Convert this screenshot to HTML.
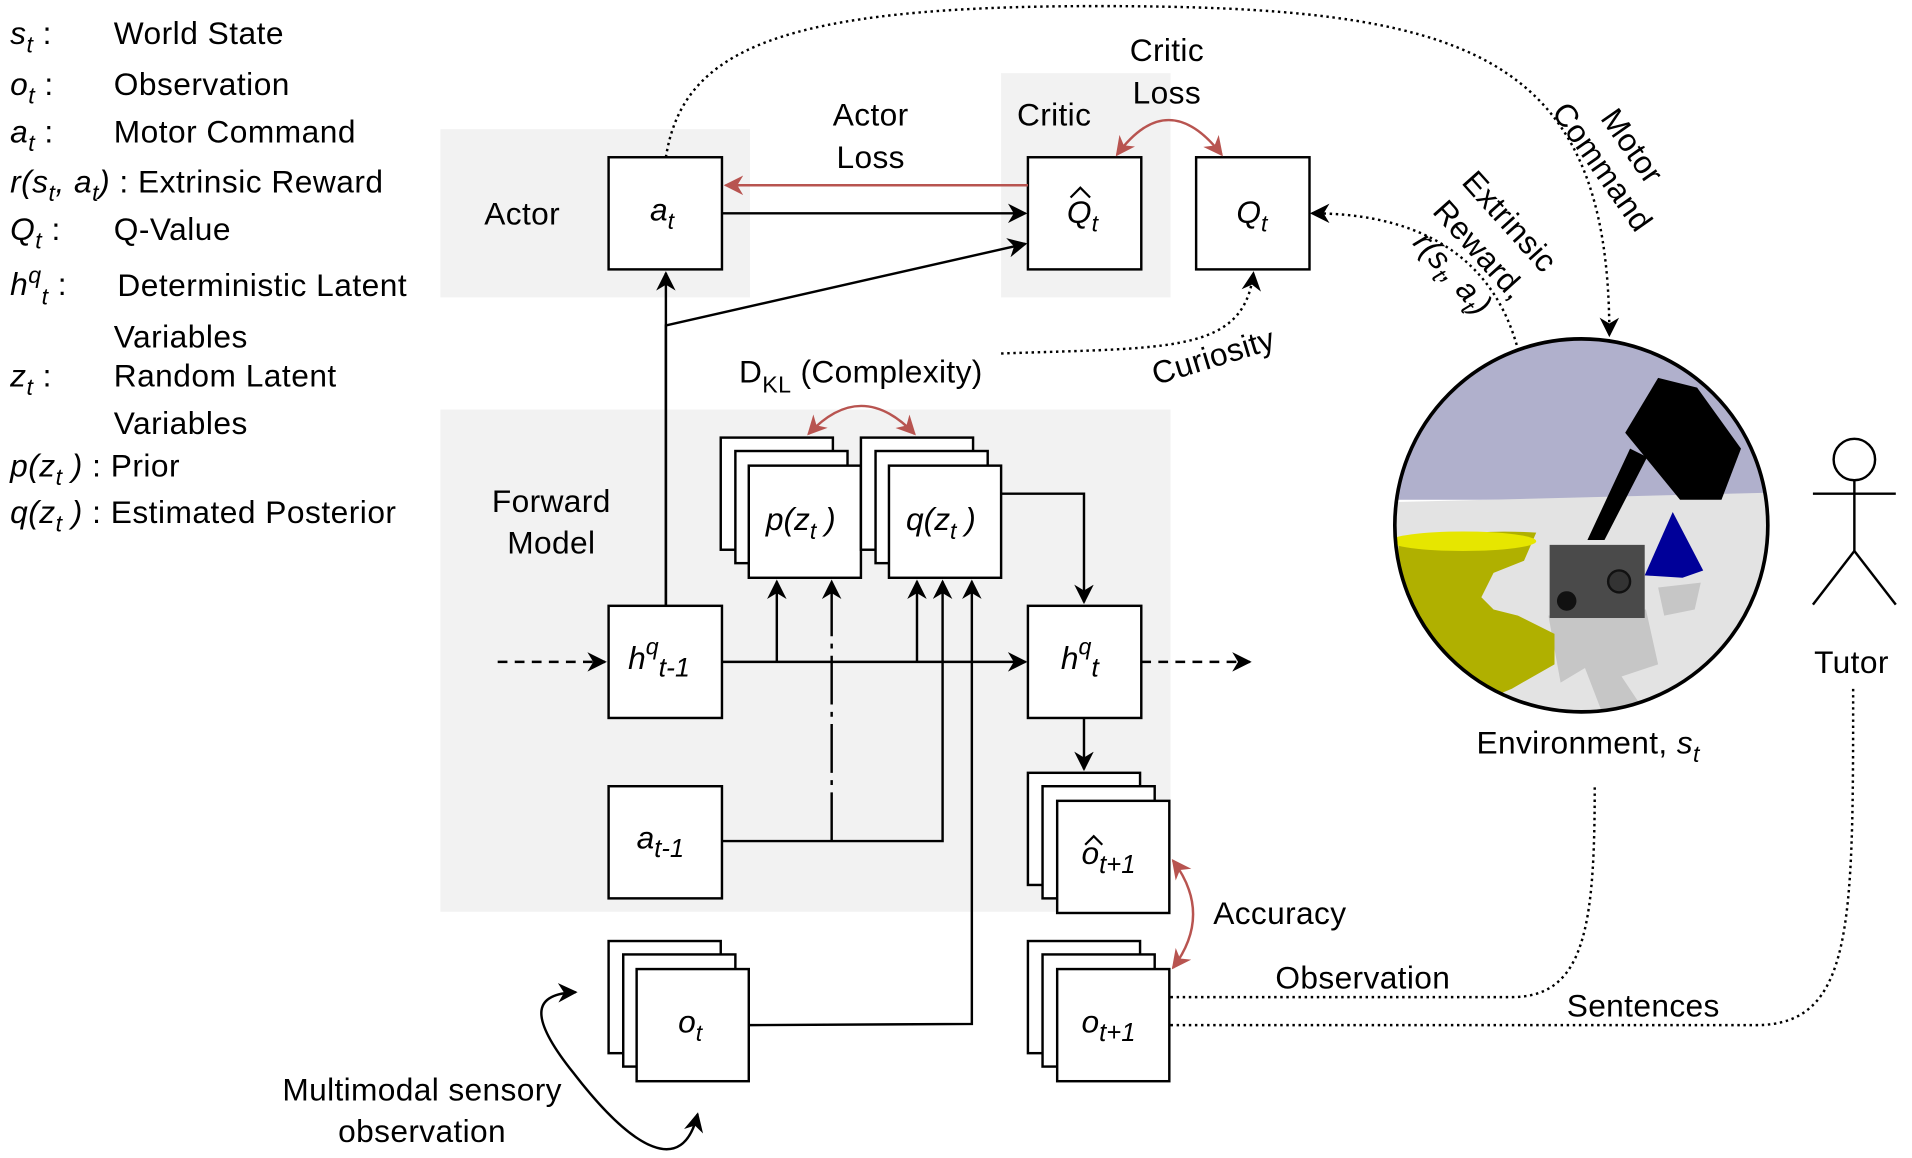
<!DOCTYPE html>
<html><head><meta charset="utf-8"><style>
html,body{margin:0;padding:0;background:#fff;}
svg{display:block;}
text{font-family:"Liberation Sans","DejaVu Sans",sans-serif;fill:#000;}
.it{font-style:italic;}
</style></head><body>
<svg width="1912" height="1158" viewBox="0 0 1568 950" xmlns="http://www.w3.org/2000/svg">
<defs>
<marker id="ab" viewBox="0 0 10 10" refX="9" refY="5" markerWidth="8" markerHeight="8" orient="auto-start-reverse"><path d="M0,0 L10,5 L0,10 L3,5 z" fill="#000"/></marker>
<marker id="ar" viewBox="0 0 10 10" refX="9" refY="5" markerWidth="8" markerHeight="8" orient="auto-start-reverse"><path d="M0,0 L10,5 L0,10 L3,5 z" fill="#b85450"/></marker>
<clipPath id="cc"><circle cx="1297" cy="431" r="153"/></clipPath>
</defs>
<rect x="361" y="106" width="254" height="138" fill="#f2f2f2"/>
<rect x="821" y="60" width="139" height="184" fill="#f2f2f2"/>
<rect x="361" y="336" width="599" height="412" fill="#f2f2f2"/>

<g font-size="26" letter-spacing="0.4">
<text x="8" y="36" class="it">s<tspan font-size="19" dy="7">t</tspan><tspan dy="-7" font-style="normal"> :</tspan></text><text x="93" y="36">World State</text>
<text x="8" y="78" class="it">o<tspan font-size="19" dy="7">t</tspan><tspan dy="-7" font-style="normal"> :</tspan></text><text x="93" y="78">Observation</text>
<text x="8" y="117" class="it">a<tspan font-size="19" dy="7">t</tspan><tspan dy="-7" font-style="normal"> :</tspan></text><text x="93" y="117">Motor Command</text>
<text x="8" y="158"><tspan class="it">r(s<tspan font-size="19" dy="7">t</tspan><tspan dy="-7">, a</tspan><tspan font-size="19" dy="7">t</tspan><tspan dy="-7">)</tspan></tspan> : Extrinsic Reward</text>
<text x="8" y="197" class="it">Q<tspan font-size="19" dy="7">t</tspan><tspan dy="-7" font-style="normal"> :</tspan></text><text x="93" y="197">Q-Value</text>
<text x="8" y="242" class="it">h<tspan font-size="19" dy="-10">q</tspan><tspan font-size="19" dy="18">t</tspan><tspan dy="-8" font-style="normal"> :</tspan></text><text x="96" y="243">Deterministic Latent</text>
<text x="93" y="285">Variables</text>
<text x="8" y="317" class="it">z<tspan font-size="19" dy="7">t</tspan><tspan dy="-7" font-style="normal"> :</tspan></text><text x="93" y="317">Random Latent</text>
<text x="93" y="356">Variables</text>
<text x="8" y="391"><tspan class="it">p(z<tspan font-size="19" dy="7">t</tspan><tspan dy="-7"> )</tspan></tspan> : Prior</text>
<text x="8" y="429"><tspan class="it">q(z<tspan font-size="19" dy="7">t</tspan><tspan dy="-7"> )</tspan></tspan> : Estimated Posterior</text>
</g>

<g font-size="26" letter-spacing="0.3">
<text x="397" y="184">Actor</text>
<text x="834" y="103">Critic</text>
<text x="714" y="103" text-anchor="middle">Actor</text>
<text x="714" y="138" text-anchor="middle">Loss</text>
<text x="957" y="50" text-anchor="middle">Critic</text>
<text x="957" y="85" text-anchor="middle">Loss</text>
<text x="452" y="420" text-anchor="middle">Forward</text>
<text x="452" y="454" text-anchor="middle">Model</text>
<text x="606" y="314">D<tspan font-size="19" dy="8">KL</tspan><tspan dy="-8"> (Complexity)</tspan></text>
<text x="995" y="758">Accuracy</text>
<text x="1046" y="811">Observation</text>
<text x="1285" y="834">Sentences</text>
<text x="1211" y="618">Environment, <tspan class="it">s<tspan font-size="19" dy="7">t</tspan></tspan></text>
<text x="1488" y="552">Tutor</text>
<text x="346" y="903" text-anchor="middle">Multimodal sensory</text>
<text x="346" y="937" text-anchor="middle">observation</text>
<text x="0" y="0" transform="translate(948,316) rotate(-17)">Curiosity</text>
<text x="0" y="0" transform="translate(1312,97) rotate(55)">Motor</text>
<text x="0" y="0" transform="translate(1272,92) rotate(55)">Command</text>
<text x="0" y="0" transform="translate(1198,150) rotate(48)">Extrinsic</text>
<text x="0" y="0" transform="translate(1174,174) rotate(48)">Reward,</text>
<text x="0" y="0" transform="translate(1158,200) rotate(48)" class="it">r(s<tspan font-size="19" dy="7">t</tspan><tspan dy="-7">, a</tspan><tspan font-size="19" dy="7">t</tspan><tspan dy="-7">)</tspan></text>
</g>

<g fill="#fff" stroke="#000" stroke-width="2">
<rect x="499" y="129" width="93" height="92"/>
<rect x="843" y="129" width="93" height="92"/>
<rect x="981" y="129" width="93" height="92"/>
<rect x="499" y="497" width="93" height="92"/>
<rect x="843" y="497" width="93" height="92"/>
<rect x="499" y="645" width="93" height="92"/>
<rect x="591" y="359" width="92" height="92"/><rect x="603" y="370" width="92" height="92"/><rect x="614" y="382" width="92" height="92"/>
<rect x="706" y="359" width="92" height="92"/><rect x="718" y="370" width="92" height="92"/><rect x="729" y="382" width="92" height="92"/>
<rect x="843" y="634" width="92" height="92"/><rect x="855" y="645" width="92" height="92"/><rect x="867" y="657" width="92" height="92"/>
<rect x="843" y="772" width="92" height="92"/><rect x="855" y="783" width="92" height="92"/><rect x="867" y="795" width="92" height="92"/>
<rect x="499" y="772" width="92" height="92"/><rect x="511" y="783" width="92" height="92"/><rect x="522" y="795" width="92" height="92"/>
</g>
<g font-size="26">
<text x="533" y="181" class="it">a<tspan font-size="19" dy="7">t</tspan></text>
<text x="875" y="183" class="it">Q<tspan font-size="19" dy="7">t</tspan></text>
<path d="M878,162 L886,154 L894,162" fill="none" stroke="#000" stroke-width="1.8"/>
<text x="1014" y="183" class="it">Q<tspan font-size="19" dy="7">t</tspan></text>
<text x="515" y="549" class="it">h<tspan font-size="19" dy="-12">q</tspan><tspan font-size="22" dy="18">t-1</tspan></text>
<text x="870" y="549" class="it">h<tspan font-size="19" dy="-12">q</tspan><tspan font-size="22" dy="18">t</tspan></text>
<text x="522" y="696" class="it">a<tspan font-size="21" dy="7">t-1</tspan></text>
<text x="628" y="435" class="it">p(z<tspan font-size="19" dy="7">t</tspan><tspan dy="-7"> )</tspan></text>
<text x="743" y="435" class="it">q(z<tspan font-size="19" dy="7">t</tspan><tspan dy="-7"> )</tspan></text>
<text x="887" y="709" class="it">o<tspan font-size="21" dy="7">t+1</tspan></text>
<path d="M890,693 L897,686 L904,693" fill="none" stroke="#000" stroke-width="1.8"/>
<text x="887" y="847" class="it">o<tspan font-size="21" dy="7">t+1</tspan></text>
<text x="556" y="847" class="it">o<tspan font-size="19" dy="7">t</tspan></text>
</g>

<g fill="none" stroke="#000" stroke-width="2">
<line x1="592" y1="175" x2="841" y2="175" marker-end="url(#ab)"/>
<polyline points="546,497 546,267 841,200" marker-end="url(#ab)"/>
<line x1="546" y1="497" x2="546" y2="224" marker-end="url(#ab)"/>
<line x1="592" y1="543" x2="841" y2="543" marker-end="url(#ab)"/>
<line x1="637" y1="543" x2="637" y2="477" marker-end="url(#ab)"/>
<line x1="752" y1="543" x2="752" y2="477" marker-end="url(#ab)"/>
<polyline points="592,690 773,690 773,477" marker-end="url(#ab)"/>
<line x1="682" y1="690" x2="682" y2="477" marker-end="url(#ab)" stroke-dasharray="40,6,4,6"/>
<polyline points="614,841 797,840 797,477" marker-end="url(#ab)"/>
<polyline points="821,405 889,405 889,494" marker-end="url(#ab)"/>
<line x1="889" y1="589" x2="889" y2="631" marker-end="url(#ab)"/>
</g>
<g fill="none" stroke="#000" stroke-width="2" stroke-dasharray="8,6">
<line x1="408" y1="543" x2="496" y2="543" marker-end="url(#ab)"/>
<line x1="936" y1="543" x2="1025" y2="543" marker-end="url(#ab)"/>
</g>
<g fill="none" stroke="#b85450" stroke-width="2">
<line x1="843" y1="152" x2="595" y2="152" marker-end="url(#ar)"/>
<path d="M916,127 Q958,70 1002,127" marker-start="url(#ar)" marker-end="url(#ar)"/>
<path d="M663,356 Q706,310 750,356" marker-start="url(#ar)" marker-end="url(#ar)"/>
<path d="M962,706 Q995,750 962,794" marker-start="url(#ar)" marker-end="url(#ar)"/>
</g>
<g fill="none" stroke="#000" stroke-width="2" stroke-dasharray="2,3">
<path d="M546,129 C560,40 640,5 900,5 C1200,5 1320,40 1320,275" marker-end="url(#ab)"/>
<path d="M1244,283 C1220,200 1150,175 1076,175" marker-end="url(#ab)"/>
<path d="M821,290 C960,285 1020,290 1028,224" marker-end="url(#ab)"/>
<path d="M960,818 L1240,818 C1300,818 1308,760 1308,645"/>
<path d="M960,841 L1440,841 C1520,841 1520,760 1520,565"/>
</g>
<path d="M572,914 C560,965 520,945 470,880 C430,830 440,815 472,814" fill="none" stroke="#000" stroke-width="2" marker-start="url(#ab)" marker-end="url(#ab)"/>

<g clip-path="url(#cc)">
<rect x="1140" y="270" width="320" height="140" fill="#b0b0cc"/>
<polygon points="1140,412 1460,404 1460,600 1140,600" fill="#e3e3e3"/>
<polygon points="1270,505 1350,500 1360,545 1330,555 1360,600 1320,600 1300,548 1280,560" fill="#c6c6c6"/>
<polygon points="1395,478 1360,482 1365,505 1390,500" fill="#c6c6c6"/>
<path d="M1147,447 Q1200,433 1260,437 L1250,460 L1225,470 L1215,490 L1225,500 L1245,505 L1275,520 L1275,545 L1240,565 L1180,590 L1140,590 Z" fill="#b0b000"/>
<ellipse cx="1200" cy="444" rx="60" ry="8" fill="#e6e600"/>
<polygon points="1349,472 1372,420 1397,468 1380,474" fill="#000099"/>
<rect x="1271" y="447" width="78" height="60" fill="#4a4a4a"/>
<circle cx="1285" cy="493" r="8" fill="#111"/>
<circle cx="1328" cy="477" r="9" fill="#333" stroke="#111" stroke-width="2"/>
<polygon points="1302,443 1316,443 1351,375 1337,368" fill="#000"/>
<polygon points="1360,310 1392,318 1428,368 1412,410 1378,410 1333,355" fill="#000"/>
</g>
<circle cx="1297" cy="431" r="153" fill="none" stroke="#000" stroke-width="3"/>

<g fill="none" stroke="#000" stroke-width="2">
<circle cx="1521" cy="377" r="17"/>
<line x1="1521" y1="394" x2="1521" y2="452"/>
<line x1="1487" y1="405" x2="1555" y2="405"/>
<line x1="1521" y1="452" x2="1487" y2="496"/>
<line x1="1521" y1="452" x2="1555" y2="496"/>
</g>
</svg>
</body></html>
